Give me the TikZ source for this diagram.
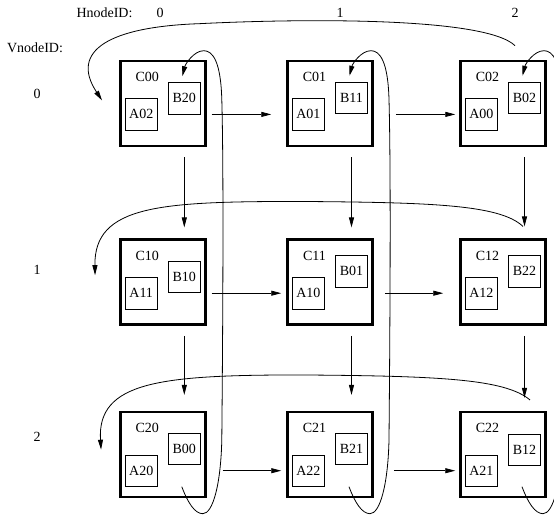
\documentclass[tikz,border=0pt]{standalone}
\usepackage{fontspec}
\setmainfont{Liberation Serif}
\usetikzlibrary{arrows.meta,calc}

\begin{document}
\begin{tikzpicture}[x=1pt,y=-1pt,
    >={Triangle[length=10pt,width=5pt]}, font=\fontsize{14}{16}\selectfont,
    cell/.style={draw,line width=2.5pt,minimum size=85pt,inner sep=0pt},
    part/.style={draw,line width=0.8pt,minimum width=32pt,minimum height=31.5pt,inner sep=0pt},
    link/.style={->,line width=0.8pt},
    hdr/.style={inner sep=0pt},
]
\useasboundingbox (0,0) rectangle (554,516);

% ================= axis labels =================
\node[hdr] (hlab) at (104.5,13) {HnodeID:};
\node[hdr] (hc0) at (160,13) {0};
\node[hdr] (hc1) at (340,13) {1};
\node[hdr] (hc2) at (515,13) {2};
\node[hdr] (vlab) at (35,48) {VnodeID:};
\node[hdr] (vr0) at (37,94) {0};
\node[hdr] (vr1) at (37,270) {1};
\node[hdr] (vr2) at (37,437) {2};

% ================= the 3x3 cells, each with an A part and a B part =================
\foreach \r/\c/\x/\y/\pa/\pb/\da/\db in {
    0/0/162.8/103.4/A02/B20/11/-5, 0/1/330/103.4/A01/B11/11/-5.5, 0/2/503/103.4/A00/B02/11/-5.5,
    1/0/162.8/282.2/A11/B10/11/-5.5, 1/1/330/282.2/A10/B01/11/-11, 1/2/503/282.2/A12/B22/11/-11,
    2/0/162.8/454.7/A20/B00/16/-6, 2/1/330/454.7/A22/B21/16/-6, 2/2/503/454.7/A21/B12/16/-5}{
  \node[cell] (C\r\c) at (\x,\y) {};
  \node[hdr] (t\r\c) at ([shift={(-15.5,-26.3)}]C\r\c.center) {C\r\c};
  \node[part] (a\r\c) at ([shift={(-21.6,\da)}]C\r\c.center) {\pa};
  \node[part] (b\r\c) at ([shift={(21.5,\db)}]C\r\c.center) {\pb};
}

% ================= links along a row =================
\foreach \r/\c/\n/\s/\e in {0/0/1/5/15, 0/1/2/22/4, 1/0/1/5/5, 1/1/2/11/16, 2/0/1/16/5, 2/1/2/20/4}
  \draw[link,shorten <=\s pt,shorten >=\e pt] (C\r\c.east |- a\r\c) -- (C\r\n.west |- a\r\c);

% ================= links down a column =================
\foreach \r/\n/\c/\s/\e in {0/1/0/10/11, 0/1/1/10/11, 0/1/2/10/12, 1/2/0/10/16, 1/2/1/10/16, 1/2/2/10/13}
  \draw[link,shorten <=\s pt,shorten >=\e pt] (b\r\c |- C\r\c.south) -- (b\n\c |- C\n\c.north);

% ================= wrap-around links, last column back to first =================
\draw[link] ([shift={(12,-14)}]C02.north) .. controls +(-30,-29) and +(100,-5) .. ++(-315,-22)
  .. controls +(-90,3) and +(-33,-50) .. ([shift={(-17,-3)}]C00.west);
\draw[link] ([shift={(20,-12)}]C12.north) .. controls +(-23,-22) and +(130,1) .. ++(-223,-25)
  .. controls +(-140,0) and +(-1,-70) .. ([shift={(-24,-7)}]C10.west);
\draw[link] ([shift={(27,-11)}]C22.north) .. controls +(-25,-21) and +(140,1) .. ++(-230,-25)
  .. controls +(-140,0) and +(-4,-68) .. ([shift={(-18,-5)}]C20.west);

% ================= wrap-around links, last row back to first =================
\foreach \c in {0,1,2}
  \draw[link] ([shift={(19,32)}]C2\c.center) .. controls +(6,16) and +(-8,0) .. ++(21,27)
    .. controls +(10,0) and +(-1,45) .. ++(19,-74)
    .. controls +(1,-110) and +(2,70) .. ++(0,-340)
    .. controls +(-1,-38) and +(9,0) .. ++(-18,-49)
    .. controls +(-10,0) and +(3,-12) .. ([shift={(-2,-6)}]b0\c.north);

\end{tikzpicture}
\end{document}
